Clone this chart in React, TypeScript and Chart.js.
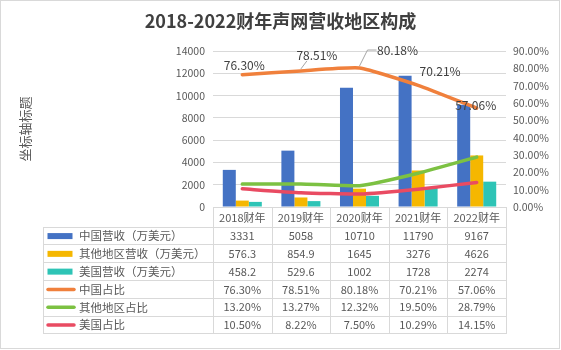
import React, { useEffect, useRef } from 'react';
import { Chart, registerables } from 'chart.js';

Chart.register(...registerables);

const chartTitle = '2018-2022财年声网营收地区构成';
const axisTitle = '坐标轴标题';
const categories = ['2018财年', '2019财年', '2020财年', '2021财年', '2022财年'];
const seriesNames = ['中国营收（万美元）', '其他地区营收（万美元）', '美国营收（万美元）', '中国占比', '其他地区占比', '美国占比'];
const chinaRevenue = [3331, 5058, 10710, 11790, 9167];
const otherRevenue = [576.3, 854.9, 1645, 3276, 4626];
const usRevenue = [458.2, 529.6, 1002, 1728, 2274];
const chinaShare = [0.763, 0.7851, 0.8018, 0.7021, 0.5706];
const otherShare = [0.132, 0.1327, 0.1232, 0.195, 0.2879];
const usShare = [0.105, 0.0822, 0.075, 0.1029, 0.1415];
const leftAxis = { min: 0, max: 14000, step: 2000 };
const rightAxis = { min: 0, max: 0.9, step: 0.1 };

const FONT = "'Noto Sans CJK SC', 'Noto Sans', sans-serif";
const TEXT = '#595959';
const GRID = '#d9d9d9';

const pct = (v: number) => (v * 100).toFixed(2) + '%';

// label placement for the China share series (offset of label centre from point)
const labelOffsets = [
  [2, -9],
  [16, -15],
  [38, -18],
  [22, -14],
  [-1, -3],
];
const leaders: Record<number, number[][]> = {
  1: [[-16, 13], [-10, 5]],
  2: [[-38, 16], [-30, 0], [-21, 0]],
};

const framePlugin = {
  id: 'frame',
  beforeDraw(chart: any) {
    const { ctx, width, height } = chart;
    ctx.save();
    ctx.fillStyle = '#ffffff';
    ctx.fillRect(0, 0, width, height);
    ctx.strokeStyle = GRID;
    ctx.lineWidth = 1;
    ctx.strokeRect(0.5, 0.5, width - 2, height - 2);
    ctx.restore();
  },
};

const shareLabelPlugin = {
  id: 'shareLabels',
  afterDatasetsDraw(chart: any) {
    const { ctx } = chart;
    const meta = chart.getDatasetMeta(3);
    const values = chart.data.datasets[3].data as number[];
    ctx.save();
    ctx.font = `12px ${FONT}`;
    ctx.fillStyle = '#404040';
    ctx.textAlign = 'center';
    ctx.textBaseline = 'middle';
    meta.data.forEach((pt: any, i: number) => {
      const [dx, dy] = labelOffsets[i];
      const lx = pt.x + dx;
      const ly = pt.y + dy;
      const lead = leaders[i];
      if (lead) {
        ctx.strokeStyle = '#a6a6a6';
        ctx.lineWidth = 1;
        ctx.beginPath();
        lead.forEach(([ox, oy], k) => {
          if (k === 0) ctx.moveTo(lx + ox, ly + oy);
          else ctx.lineTo(lx + ox, ly + oy);
        });
        ctx.stroke();
      }
      ctx.fillText(pct(values[i]), lx, ly);
    });
    ctx.restore();
  },
};

const tablePlugin = {
  id: 'dataTable',
  afterDraw(chart: any) {
    const { ctx, chartArea } = chart;
    const xs = chart.scales.x;
    const datasets = chart.data.datasets;
    const n = categories.length;
    const w = (chartArea.right - chartArea.left) / n;
    const top = chartArea.bottom;
    const headerH = 19.7;
    const rowH = 17.77;
    const legendLeft = 43;
    const bottom = top + headerH + rowH * datasets.length;
    ctx.save();
    ctx.strokeStyle = GRID;
    ctx.lineWidth = 1;
    ctx.beginPath();
    for (let k = 0; k <= n; k++) {
      const px = Math.round(chartArea.left + k * w) + 0.5;
      ctx.moveTo(px, top);
      ctx.lineTo(px, Math.round(bottom) + 0.5);
    }
    ctx.moveTo(legendLeft + 0.5, Math.round(top + headerH) + 0.5);
    ctx.lineTo(legendLeft + 0.5, Math.round(bottom) + 0.5);
    for (let r = 0; r <= datasets.length; r++) {
      const py = Math.round(top + headerH + r * rowH) + 0.5;
      ctx.moveTo(legendLeft, py);
      ctx.lineTo(Math.round(chartArea.right) + 1, py);
    }
    ctx.stroke();

    ctx.fillStyle = TEXT;
    ctx.textAlign = 'center';
    ctx.textBaseline = 'middle';
    ctx.font = `11px ${FONT}`;
    categories.forEach((c, i) => {
      ctx.fillText(c, xs.getPixelForValue(i), top + headerH / 2 + 1);
    });

    datasets.forEach((ds: any, r: number) => {
      const cy = top + headerH + rowH * r + rowH / 2 + 0.5;
      const isLine = ds.type === 'line';
      if (isLine) {
        ctx.strokeStyle = ds.borderColor;
        ctx.lineWidth = 3.5;
        ctx.lineCap = 'round';
        ctx.beginPath();
        ctx.moveTo(48, cy);
        ctx.lineTo(74, cy);
        ctx.stroke();
      } else {
        ctx.fillStyle = ds.backgroundColor;
        ctx.fillRect(47.5, cy - 3, 25, 6);
      }
      ctx.fillStyle = TEXT;
      ctx.textAlign = 'left';
      ctx.font = `11.5px ${FONT}`;
      ctx.fillText(ds.label, 79, cy);
      ctx.textAlign = 'center';
      ctx.font = `11px ${FONT}`;
      (ds.data as number[]).forEach((v, i) => {
        ctx.fillText(isLine ? pct(v) : String(v), xs.getPixelForValue(i), cy);
      });
    });
    ctx.restore();
  },
};

export default function App() {
  const ref = useRef<HTMLCanvasElement | null>(null);

  useEffect(() => {
    if (!ref.current) return;
    const lineDs = (label: string, data: number[], color: string) => ({
      type: 'line' as const,
      label,
      data,
      yAxisID: 'y1',
      borderColor: color,
      backgroundColor: color,
      borderWidth: 3.5,
      borderCapStyle: 'round' as const,
      borderJoinStyle: 'round' as const,
      pointRadius: 0,
      tension: 0.15,
      order: 0,
    });
    const barDs = (label: string, data: number[], color: string) => ({
      type: 'bar' as const,
      label,
      data,
      yAxisID: 'y',
      backgroundColor: color,
      borderWidth: 0,
      barPercentage: 1,
      categoryPercentage: 0.666,
      order: 1,
    });
    const chart = new Chart(ref.current, {
      type: 'bar',
      data: {
        labels: categories,
        datasets: [
          barDs(seriesNames[0], chinaRevenue, '#4472C4'),
          barDs(seriesNames[1], otherRevenue, '#F5B700'),
          barDs(seriesNames[2], usRevenue, '#2EC4B6'),
          lineDs(seriesNames[3], chinaShare, '#F0803C'),
          lineDs(seriesNames[4], otherShare, '#7CC142'),
          lineDs(seriesNames[5], usShare, '#E94B62'),
        ] as any,
      },
      plugins: [framePlugin, shareLabelPlugin, tablePlugin],
      options: {
        responsive: false,
        animation: false,
        devicePixelRatio: 1,
        layout: { padding: { top: 0, left: 0, right: 0, bottom: 17 } },
        plugins: {
          legend: { display: false },
          tooltip: { enabled: false },
          title: {
            display: true,
            text: chartTitle,
            color: '#404040',
            font: { family: FONT, size: 18, weight: 'bold' },
            padding: { top: 10, bottom: 19.4 },
          },
        },
        scales: {
          x: {
            grid: { display: false },
            border: { display: true, color: GRID },
            ticks: { display: false },
            afterFit: (s: any) => {
              s.height = 126;
            },
          },
          y: {
            position: 'left',
            min: leftAxis.min,
            max: leftAxis.max,
            ticks: {
              stepSize: leftAxis.step,
              color: TEXT,
              padding: 8,
              font: { family: FONT, size: 10.5 },
              callback: (v: any) => String(v),
            },
            grid: { color: GRID, drawTicks: false },
            border: { display: false },
            title: {
              display: true,
              text: axisTitle,
              color: TEXT,
              font: { family: FONT, size: 13 },
              padding: { top: 17, bottom: 0 },
            },
            afterFit: (s: any) => {
              s.width = 213;
            },
          },
          y1: {
            position: 'right',
            min: rightAxis.min,
            max: rightAxis.max,
            ticks: {
              stepSize: rightAxis.step,
              color: TEXT,
              padding: 7,
              font: { family: FONT, size: 10.5 },
              callback: (v: any) => pct(Number(v)),
            },
            grid: { display: false, drawTicks: false },
            border: { display: false },
            afterFit: (s: any) => {
              s.width = 55;
            },
          },
        },
      } as any,
    });
    return () => chart.destroy();
  }, []);

  return (
    <div style={{ position: 'absolute', left: 0, top: 0 }}>
      <canvas ref={ref} width={561} height={350} />
    </div>
  );
}
